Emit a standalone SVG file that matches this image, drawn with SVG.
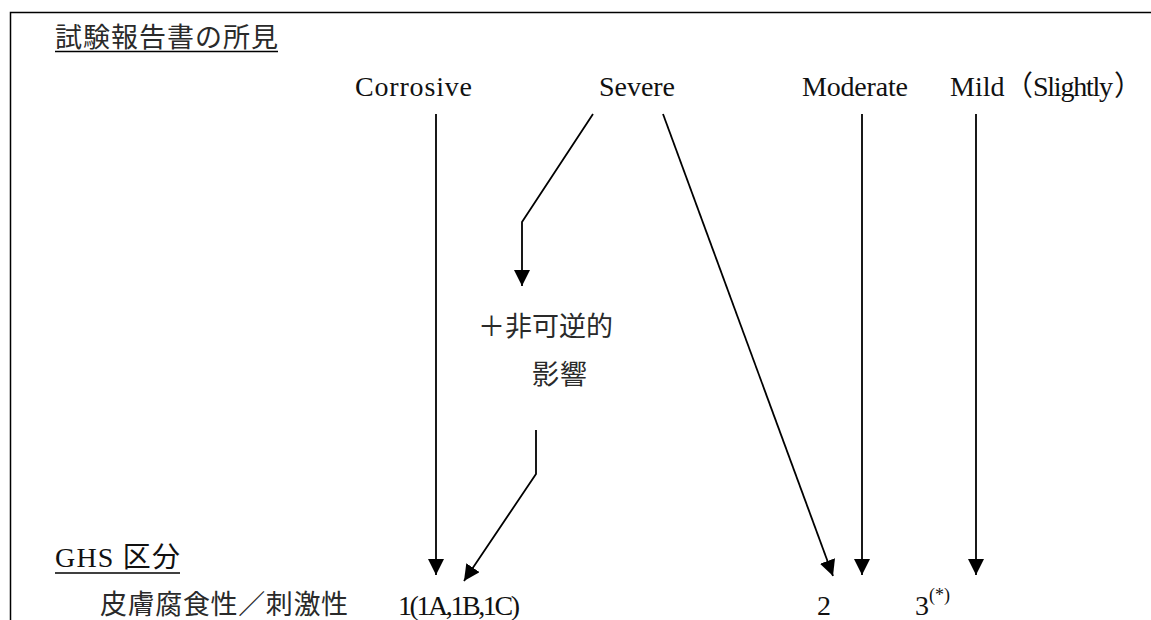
<svg xmlns="http://www.w3.org/2000/svg" width="1151" height="620" viewBox="0 0 1151 620">
<style>
  .t { font-family: "Liberation Serif", "Noto Sans CJK JP", serif; font-size: 28px; fill: #111; }
  .j { font-family: "Noto Sans CJK JP", "Liberation Serif", sans-serif; font-size: 27px; fill: #2a2a2a; }
  .sup { font-family: "Liberation Serif", serif; font-size: 18px; fill: #111; }
  .c { fill: none; stroke: #000; stroke-width: 1.8; }
  .u { stroke: #000; stroke-width: 1.5; }
</style>
<defs>
  <marker id="ah" markerUnits="userSpaceOnUse" markerWidth="16" markerHeight="16" viewBox="0 0 15 15" refX="15" refY="7.5" orient="auto">
    <path d="M0,0 L15,7.5 L0,15 z" fill="#000"/>
  </marker>
</defs>
<rect width="1151" height="620" fill="#fff"/>
<g id="frame">
  <path d="M10.5,620 V12.5 H1151" fill="none" stroke="#000" stroke-width="1.5"/>
</g>
<g id="title">
  <text class="j" x="55" y="47" textLength="223">試験報告書の所見</text>
  <line class="u" x1="55" y1="51.5" x2="278" y2="51.5"/>
</g>
<g id="corrosive"><text class="t" x="355" y="96" textLength="117">Corrosive</text></g>
<g id="severe"><text class="t" x="599" y="96" textLength="76">Severe</text></g>
<g id="moderate"><text class="t" x="802" y="96" textLength="106">Moderate</text></g>
<g id="mild"><text class="t" y="96"><tspan x="950">Mild</tspan><tspan x="1005">（</tspan><tspan x="1033" textLength="80">Slightly</tspan><tspan x="1114">）</tspan></text></g>
<g id="irreversible">
  <text class="j" x="478" y="336" textLength="135">＋非可逆的</text>
  <text class="j" x="532" y="384" textLength="55">影響</text>
</g>
<g id="ghs">
  <text class="t" x="55" y="567" textLength="125">GHS  区分</text>
  <line class="u" x1="55" y1="573" x2="180" y2="573"/>
</g>
<g id="skin"><text class="j" x="100" y="614" textLength="248">皮膚腐食性／刺激性</text></g>
<g id="cat1"><text class="t" x="398" y="615" textLength="122">1(1A,1B,1C)</text></g>
<g id="cat2"><text class="t" x="817" y="615">2</text></g>
<g id="cat3"><text class="t" x="915" y="615">3</text><text class="sup" x="929" y="601">(*)</text></g>
<g id="connectors">
  <path class="c" d="M436,114 L436,575" marker-end="url(#ah)"/>
  <path class="c" d="M593,114 L522,222 L522,286" marker-end="url(#ah)"/>
  <path class="c" d="M663,114 L833,576" marker-end="url(#ah)"/>
  <path class="c" d="M862,114 L862,575" marker-end="url(#ah)"/>
  <path class="c" d="M976,114 L976,575" marker-end="url(#ah)"/>
  <path class="c" d="M536,430 L536,474 L464,581" marker-end="url(#ah)"/>
</g>
</svg>
